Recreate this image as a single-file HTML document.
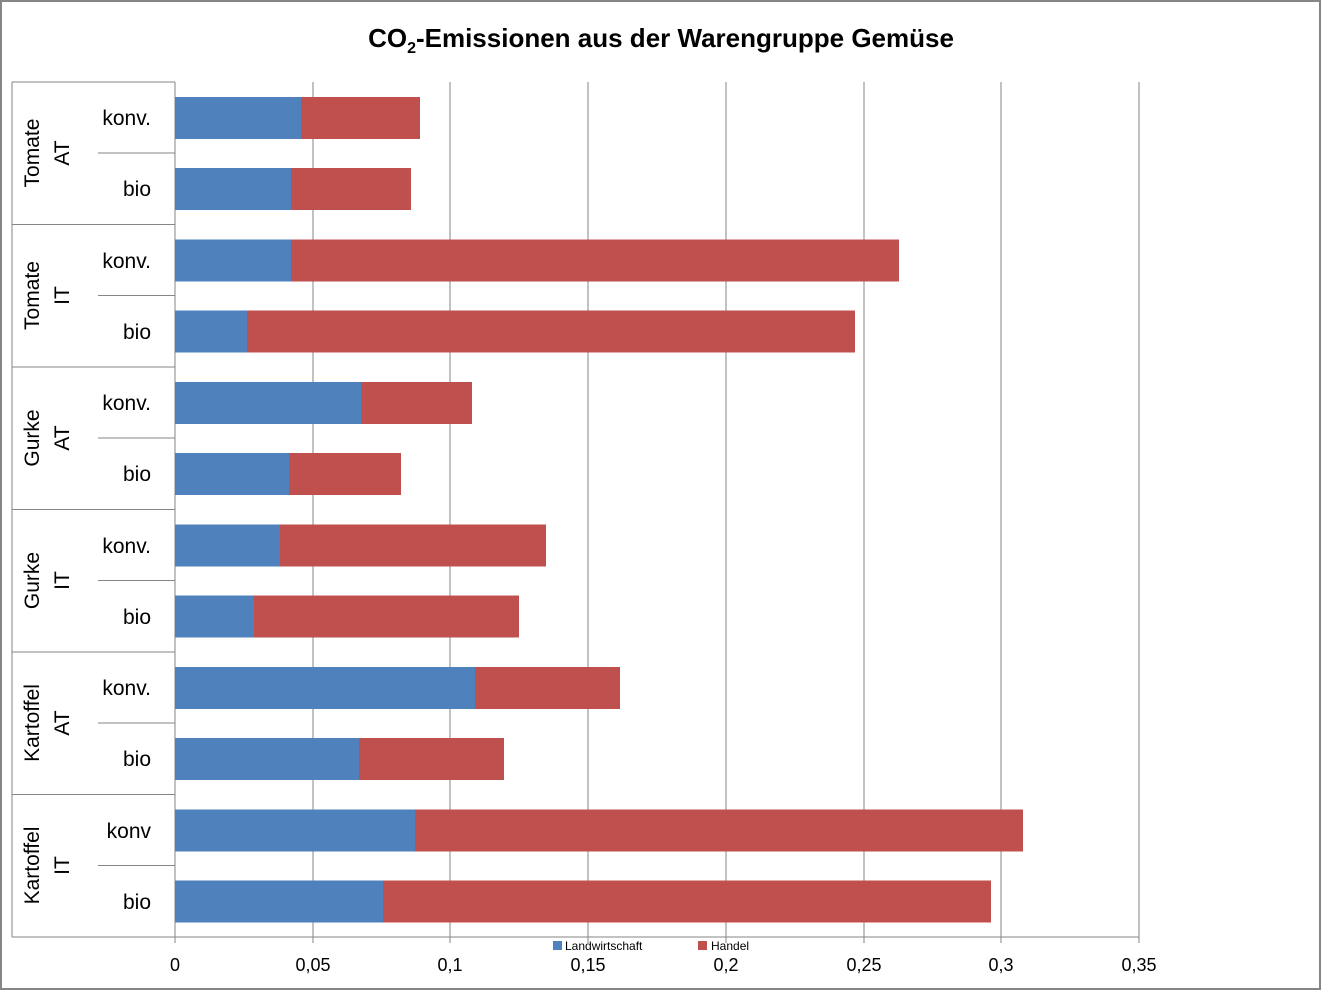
<!DOCTYPE html>
<html><head><style>
body{margin:0;background:#fff}
svg{display:block;font-family:"Liberation Sans",sans-serif}
</style></head><body>
<svg width="1322" height="991" viewBox="0 0 1322 991">
<rect x="1" y="1" width="1319" height="988" fill="#fff" stroke="#868686" stroke-width="2"/>
<text x="661" y="47" text-anchor="middle" font-size="26" font-weight="bold" fill="#000">CO<tspan font-size="16" dy="6">2</tspan><tspan dy="-6">-Emissionen aus der Warengruppe Gemüse</tspan></text>
<g stroke="#868686" stroke-width="1">
<line x1="313" y1="82" x2="313" y2="943"/><line x1="450" y1="82" x2="450" y2="943"/>
<line x1="588" y1="82" x2="588" y2="943"/><line x1="726" y1="82" x2="726" y2="943"/>
<line x1="864" y1="82" x2="864" y2="943"/><line x1="1001" y1="82" x2="1001" y2="943"/>
<line x1="1139" y1="82" x2="1139" y2="943"/>
<line x1="175" y1="82" x2="175" y2="943"/>
<line x1="12" y1="937" x2="1139" y2="937"/>
<line x1="12" y1="82" x2="12" y2="937"/>
<line x1="12" y1="82" x2="175" y2="82"/><line x1="12" y1="224.5" x2="175" y2="224.5"/>
<line x1="12" y1="367" x2="175" y2="367"/><line x1="12" y1="509.5" x2="175" y2="509.5"/>
<line x1="12" y1="652" x2="175" y2="652"/><line x1="12" y1="794.5" x2="175" y2="794.5"/>
<line x1="98" y1="153" x2="175" y2="153"/><line x1="98" y1="295.5" x2="175" y2="295.5"/>
<line x1="98" y1="438" x2="175" y2="438"/><line x1="98" y1="580.5" x2="175" y2="580.5"/>
<line x1="98" y1="723" x2="175" y2="723"/><line x1="98" y1="865.5" x2="175" y2="865.5"/>
</g>
<g>
<rect x="175" y="97" width="126" height="42" fill="#4f81bd"/><rect x="301" y="97" width="119" height="42" fill="#c0504d"/>
<rect x="175" y="168" width="116" height="42" fill="#4f81bd"/><rect x="291" y="168" width="120" height="42" fill="#c0504d"/>
<rect x="175" y="239.5" width="116" height="42" fill="#4f81bd"/><rect x="291" y="239.5" width="608" height="42" fill="#c0504d"/>
<rect x="175" y="310.5" width="72" height="42" fill="#4f81bd"/><rect x="247" y="310.5" width="608" height="42" fill="#c0504d"/>
<rect x="175" y="382" width="186" height="42" fill="#4f81bd"/><rect x="361" y="382" width="111" height="42" fill="#c0504d"/>
<rect x="175" y="453" width="114" height="42" fill="#4f81bd"/><rect x="289" y="453" width="112" height="42" fill="#c0504d"/>
<rect x="175" y="524.5" width="105" height="42" fill="#4f81bd"/><rect x="280" y="524.5" width="266" height="42" fill="#c0504d"/>
<rect x="175" y="595.5" width="79" height="42" fill="#4f81bd"/><rect x="254" y="595.5" width="265" height="42" fill="#c0504d"/>
<rect x="175" y="667" width="300" height="42" fill="#4f81bd"/><rect x="475" y="667" width="145" height="42" fill="#c0504d"/>
<rect x="175" y="738" width="184" height="42" fill="#4f81bd"/><rect x="359" y="738" width="145" height="42" fill="#c0504d"/>
<rect x="175" y="809.5" width="240" height="42" fill="#4f81bd"/><rect x="415" y="809.5" width="608" height="42" fill="#c0504d"/>
<rect x="175" y="880.5" width="208" height="42" fill="#4f81bd"/><rect x="383" y="880.5" width="608" height="42" fill="#c0504d"/>
</g>
<g font-size="21" fill="#000" text-anchor="end">
<text x="151" y="125">konv.</text><text x="151" y="196">bio</text>
<text x="151" y="268">konv.</text><text x="151" y="339">bio</text>
<text x="151" y="410">konv.</text><text x="151" y="481">bio</text>
<text x="151" y="553">konv.</text><text x="151" y="624">bio</text>
<text x="151" y="695">konv.</text><text x="151" y="766">bio</text>
<text x="151" y="838">konv</text><text x="151" y="909">bio</text>
</g>
<g font-size="21" fill="#000" text-anchor="middle">
<text transform="translate(39,153) rotate(-90)">Tomate</text><text transform="translate(69,153) rotate(-90)">AT</text>
<text transform="translate(39,295.5) rotate(-90)">Tomate</text><text transform="translate(69,295.5) rotate(-90)">IT</text>
<text transform="translate(39,438) rotate(-90)">Gurke</text><text transform="translate(69,438) rotate(-90)">AT</text>
<text transform="translate(39,580.5) rotate(-90)">Gurke</text><text transform="translate(69,580.5) rotate(-90)">IT</text>
<text transform="translate(39,723) rotate(-90)">Kartoffel</text><text transform="translate(69,723) rotate(-90)">AT</text>
<text transform="translate(39,865.5) rotate(-90)">Kartoffel</text><text transform="translate(69,865.5) rotate(-90)">IT</text>
</g>
<g font-size="18" fill="#000" text-anchor="middle">
<text x="175" y="971">0</text><text x="313" y="971">0,05</text><text x="450" y="971">0,1</text>
<text x="588" y="971">0,15</text><text x="726" y="971">0,2</text><text x="864" y="971">0,25</text>
<text x="1001" y="971">0,3</text><text x="1139" y="971">0,35</text>
</g>
<rect x="553" y="941" width="9" height="9" fill="#4f81bd"/>
<text x="565" y="950" font-size="12">Landwirtschaft</text>
<rect x="698" y="941" width="9" height="9" fill="#c0504d"/>
<text x="711" y="950" font-size="12">Handel</text>
</svg>
</body></html>
